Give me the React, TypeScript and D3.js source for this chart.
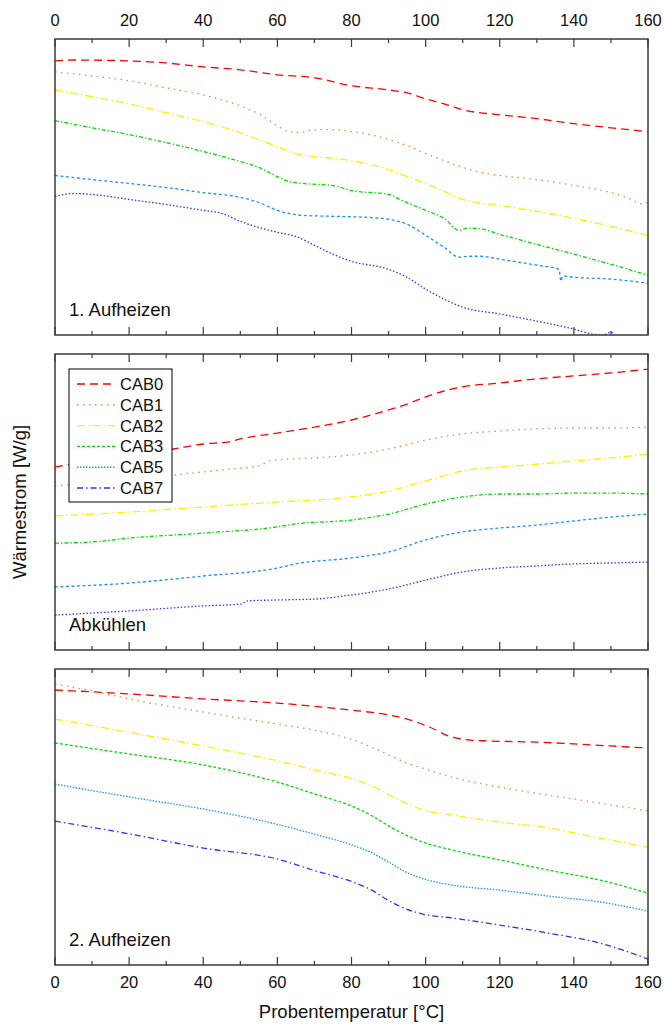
import React from 'react'
import * as d3 from 'd3'

// temperature ticks
const majorTicks = [0, 20, 40, 60, 80, 100, 120, 140, 160]
const minorTicks = [10, 30, 50, 70, 90, 110, 130, 150]

const seriesNames = ['CAB0', 'CAB1', 'CAB2', 'CAB3', 'CAB5', 'CAB7']
const seriesColors = ['#ff0000', '#ff8030', '#ffee00', '#00dd00', '#1e8fff', '#5020ff']
// dash patterns: legend / 2. Aufheizen, and the ones used in the first two runs
const seriesDash = ['8,5', '1.5,4.5', '8,3,1.5,3', '3,2', '1.5,1.5', '6,3,1.5,3']
const seriesDashEarly = ['8,5', '1.5,4.5', '8,3,1.5,3', '4,2,1.5,2', '3,2.5', '1.5,2']

const panelTitles = ['1. Aufheizen', 'Abkühlen', '2. Aufheizen']

// heat flow, arbitrary offset units (0 = bottom of panel, 100 = top)
const heat1CAB0 = [[0, 92.6], [5, 92.9], [20, 92.6], [30, 91.9], [40, 90.6], [50, 89.6], [60, 87.9], [70, 86.9], [80, 84.2], [90, 82.8], [95, 81.8], [100, 79.8], [105, 78.1], [110, 76.1], [120, 74.4], [130, 73.1], [140, 71.4], [150, 70.0], [160, 68.7]]
const heat1CAB1 = [[0, 88.9], [10, 87.5], [20, 85.9], [30, 83.5], [40, 81.1], [50, 77.4], [55, 74.7], [60, 70.7], [63, 68.7], [66, 68.4], [70, 69.4], [75, 69.4], [80, 68.7], [85, 67.7], [90, 66.0], [95, 64.0], [100, 61.3], [105, 58.9], [110, 56.6], [115, 54.9], [120, 53.9], [130, 52.5], [140, 50.5], [150, 48.1], [155, 46.1], [158, 44.4], [160, 44.8]]
const heat1CAB2 = [[0, 82.8], [10, 80.5], [20, 78.1], [30, 75.1], [40, 72.1], [50, 68.4], [55, 66.0], [60, 63.6], [65, 61.3], [70, 60.3], [80, 58.9], [90, 55.9], [95, 53.5], [100, 51.2], [105, 48.5], [110, 45.8], [120, 43.8], [130, 41.8], [140, 39.4], [150, 36.7], [160, 33.7]]
const heat1CAB3 = [[0, 72.4], [10, 70.0], [20, 67.7], [30, 65.0], [40, 62.0], [50, 58.6], [55, 56.6], [60, 53.5], [63, 51.9], [67, 51.2], [75, 50.5], [80, 48.8], [90, 47.5], [93, 45.8], [100, 42.1], [105, 39.4], [109, 35.4], [111, 36.0], [114, 36.0], [120, 34.0], [130, 30.6], [140, 27.3], [150, 23.9], [160, 20.2]]
const heat1CAB5 = [[0, 53.9], [10, 52.5], [20, 51.2], [30, 49.8], [40, 48.1], [50, 46.5], [55, 44.8], [60, 42.1], [63, 41.1], [67, 40.4], [75, 40.1], [85, 39.7], [90, 39.1], [95, 37.4], [100, 33.7], [105, 29.6], [109, 26.3], [112, 26.6], [115, 26.6], [120, 25.6], [130, 23.6], [136, 22.2], [136.5, 18.2], [137, 19.9], [140, 19.5], [150, 18.9], [160, 17.5]]
const heat1CAB7 = [[0, 46.8], [5, 47.8], [10, 47.5], [20, 45.8], [30, 44.1], [40, 42.1], [45, 41.1], [50, 38.4], [60, 34.7], [65, 33.3], [70, 30.3], [75, 27.3], [80, 24.9], [90, 22.2], [95, 19.5], [100, 15.5], [105, 12.1], [110, 9.4], [120, 7.1], [130, 4.7], [140, 2.0], [145, 0.3], [148, 0], [150, 1.0], [151, 0]]

const heat2CAB0 = [[0, 61.8], [10, 63.9], [20, 65.5], [32, 67.9], [40, 69.6], [47, 70.3], [50, 71.3], [60, 73.3], [70, 75.3], [80, 77.7], [90, 81.1], [95, 83.1], [100, 85.5], [105, 87.5], [110, 88.9], [120, 90.2], [130, 91.6], [140, 92.6], [150, 93.6], [160, 94.9]]
const heat2CAB1 = [[0, 55.4], [10, 56.4], [20, 57.4], [32, 59.1], [47, 61.1], [55, 62.2], [58, 63.9], [60, 64.2], [70, 64.9], [80, 65.9], [90, 67.9], [100, 70.9], [110, 73.0], [120, 74.0], [130, 74.7], [140, 75.0], [150, 75.0], [160, 75.3]]
const heat2CAB2 = [[0, 45.3], [20, 46.6], [40, 48.3], [60, 50.0], [80, 51.7], [90, 53.7], [100, 57.1], [110, 60.5], [120, 61.8], [130, 62.8], [140, 63.9], [150, 64.9], [160, 66.2]]
const heat2CAB3 = [[0, 36.1], [10, 36.5], [20, 37.8], [40, 39.5], [60, 41.6], [65, 42.6], [80, 43.9], [90, 45.9], [100, 49.3], [110, 51.7], [120, 52.7], [130, 52.7], [140, 53.0], [150, 53.0], [160, 52.7]]
const heat2CAB5 = [[0, 21.3], [20, 22.6], [40, 25.0], [60, 27.7], [65, 29.1], [80, 31.1], [90, 33.1], [100, 37.2], [110, 39.9], [120, 41.2], [130, 42.2], [140, 43.6], [150, 44.9], [160, 45.9]]
const heat2CAB7 = [[0, 11.8], [10, 12.5], [20, 13.2], [40, 14.9], [50, 15.5], [52, 16.6], [60, 16.9], [70, 17.2], [80, 18.6], [90, 20.6], [100, 23.6], [110, 26.4], [120, 27.7], [130, 28.4], [140, 29.1], [150, 29.4], [160, 29.7]]

const heat3CAB0 = [[0, 92.9], [20, 91.6], [40, 89.9], [60, 88.5], [70, 87.4], [80, 86.1], [90, 84.5], [95, 83.1], [101, 80.4], [107, 77.0], [112, 76.0], [117, 75.7], [130, 75.3], [140, 74.7], [150, 74.0], [160, 73.3]]
const heat3CAB1 = [[0, 94.9], [10, 92.6], [20, 89.9], [35, 86.5], [50, 83.4], [60, 81.4], [70, 79.3], [80, 76.2], [85, 73.8], [90, 71.0], [95, 68.2], [100, 66.2], [107, 63.5], [120, 60.1], [133, 57.4], [147, 54.7], [160, 52.0]]
const heat3CAB2 = [[0, 83.1], [20, 78.6], [40, 74.0], [60, 69.0], [70, 65.9], [80, 63.0], [85, 60.8], [90, 57.6], [95, 54.5], [100, 52.2], [107, 50.7], [120, 48.3], [133, 46.3], [147, 42.9], [160, 39.9]]
const heat3CAB3 = [[0, 75.0], [20, 71.3], [40, 67.6], [60, 61.8], [70, 57.8], [80, 53.7], [85, 50.8], [90, 47.0], [95, 43.7], [100, 41.2], [107, 38.9], [120, 35.5], [133, 32.1], [147, 28.7], [160, 24.3]]
const heat3CAB5 = [[0, 61.1], [20, 56.8], [40, 52.7], [60, 47.5], [70, 44.2], [80, 40.6], [85, 38.2], [90, 34.8], [95, 31.2], [100, 28.9], [107, 27.0], [120, 25.3], [133, 23.3], [147, 21.3], [160, 18.2]]
const heat3CAB7 = [[0, 48.6], [20, 44.3], [40, 39.5], [60, 35.8], [70, 31.9], [80, 28.2], [85, 25.6], [90, 21.8], [95, 18.8], [100, 17.0], [107, 15.9], [120, 13.5], [133, 10.8], [147, 7.4], [160, 2.0]]

const panels = [
	[heat1CAB0, heat1CAB1, heat1CAB2, heat1CAB3, heat1CAB5, heat1CAB7],
	[heat2CAB0, heat2CAB1, heat2CAB2, heat2CAB3, heat2CAB5, heat2CAB7],
	[heat3CAB0, heat3CAB1, heat3CAB2, heat3CAB3, heat3CAB5, heat3CAB7],
]

const width = 665
const height = 1025
const left = 55
const right = 648
const panelTops = [39, 354, 669]
const panelHeight = 296
const font = '"Liberation Sans", Arial, sans-serif'
const axisColor = '#3a3a3a'

const xScale = d3.scaleLinear().domain([0, 160]).range([left, right])

function Panel({ index }: { index: number }) {
	const top = panelTops[index]
	const bottom = top + panelHeight
	const yScale = d3.scaleLinear().domain([0, 100]).range([bottom, top])
	const line = d3
		.line<number[]>()
		.curve(d3.curveMonotoneX)
		.x(d => xScale(d[0]))
		.y(d => yScale(d[1]))
	const dashes = index === 2 ? seriesDash : seriesDashEarly

	const ticks = (t: number, len: number) => (
		<g key={'t' + t}>
			<line x1={xScale(t)} x2={xScale(t)} y1={top} y2={top + len} stroke={axisColor} strokeWidth={1.2} />
			<line x1={xScale(t)} x2={xScale(t)} y1={bottom} y2={bottom - len} stroke={axisColor} strokeWidth={1.2} />
		</g>
	)

	return (
		<g>
			<defs>
				<clipPath id={'clip' + index}>
					<rect x={left} y={top} width={right - left} height={panelHeight} />
				</clipPath>
			</defs>
			<g clipPath={`url(#clip${index})`}>
				{panels[index].map((d, i) => (
					<path
						key={seriesNames[i]}
						d={line(d) || ''}
						fill="none"
						stroke={seriesColors[i]}
						strokeWidth={1.3}
						strokeDasharray={dashes[i]}
					/>
				))}
			</g>
			{majorTicks.map(t => ticks(t, 8))}
			{minorTicks.map(t => ticks(t, 4))}
			<rect x={left} y={top} width={right - left} height={panelHeight} fill="none" stroke={axisColor} strokeWidth={1.5} />
			<text x={69} y={bottom - 19} fontFamily={font} fontSize={18.5} fill="#111">
				{panelTitles[index]}
			</text>
		</g>
	)
}

function Legend() {
	const x0 = 69
	const y0 = 369
	const rowH = 20.8
	return (
		<g>
			<rect x={x0} y={y0} width={103} height={133} fill="#fff" stroke="#000" strokeWidth={1} />
			{seriesNames.map((name, i) => {
				const y = y0 + 15 + i * rowH
				return (
					<g key={name}>
						<line x1={x0 + 8} x2={x0 + 46} y1={y} y2={y} stroke={seriesColors[i]} strokeWidth={1.4} strokeDasharray={seriesDash[i]} />
						<text x={x0 + 51} y={y} dy="0.36em" fontFamily={font} fontSize={16.5} fill="#111">
							{name}
						</text>
					</g>
				)
			})}
		</g>
	)
}

export default function App() {
	const lastBottom = panelTops[2] + panelHeight
	return (
		<svg width={width} height={height} style={{ position: 'absolute', left: 0, top: 0, background: '#fff' }}>
			{[0, 1, 2].map(i => (
				<Panel key={i} index={i} />
			))}
			<Legend />
			{majorTicks.map(t => (
				<text key={'top' + t} x={xScale(t)} y={26} textAnchor="middle" fontFamily={font} fontSize={16.5} fill="#111">
					{t}
				</text>
			))}
			{majorTicks.map(t => (
				<text key={'bot' + t} x={xScale(t)} y={lastBottom + 23} textAnchor="middle" fontFamily={font} fontSize={16.5} fill="#111">
					{t}
				</text>
			))}
			<text x={(left + right) / 2} y={1018} textAnchor="middle" fontFamily={font} fontSize={18.5} fill="#111">
				Probentemperatur [°C]
			</text>
			<text
				transform={`translate(26, ${(panelTops[0] + lastBottom) / 2}) rotate(-90)`}
				textAnchor="middle"
				fontFamily={font}
				fontSize={18.5}
				fill="#111"
			>
				Wärmestrom [W/g]
			</text>
		</svg>
	)
}
